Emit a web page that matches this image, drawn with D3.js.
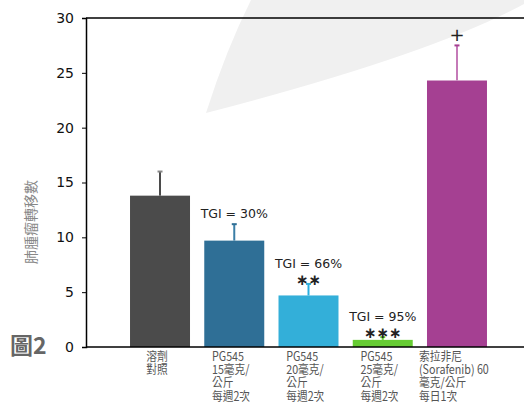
<!DOCTYPE html>
<html>
<head>
<meta charset="utf-8">
<script src="https://cdn.jsdelivr.net/npm/d3@7"></script>
<style>
  html, body { margin: 0; padding: 0; background: #fff; }
  svg { display: block; }
</style>
</head>
<body>
<svg id="chart" width="524" height="403"></svg>
<script>
// ---- data ----
const categories = ["溶劑對照", "PG545 15", "PG545 20", "PG545 25", "索拉非尼"];
const categoryLabels = [
  ["溶劑", "對照"],
  ["PG545", "15毫克/", "公斤", "每週2次"],
  ["PG545", "20毫克/", "公斤", "每週2次"],
  ["PG545", "25毫克/", "公斤", "每週2次"],
  ["索拉非尼", "(Sorafenib) 60", "毫克/公斤", "每日1次"]
];
const meanValues = [13.8, 9.7, 4.7, 0.65, 24.3];
const errorTops = [16.0, 11.2, 5.75, 0.9, 27.5];
const tgiLabels = ["", "TGI = 30%", "TGI = 66%", "TGI = 95%", ""];
const sigLabels = ["", "", "∗∗", "∗∗∗", "+"];
const yTicks = [0, 5, 10, 15, 20, 25, 30];
const barColors = ["#4b4b4b", "#2f6f96", "#33afd9", "#66cc33", "#a54092"];
const errColors = ["#4b4b4b", "#3b7ea6", "#2aaee0", "#66cc33", "#c57ab8"];
const yTitle = "肺腫瘤轉移數";
const figLabel = "圖2";

(function () {
// ---- layout ----
const svg = d3.select("#chart");
const mLeft = 86, mTop = 18, mBottom = 347, mRight = 531;

const x = d3.scaleBand().domain(categories).range([mLeft, mRight])
  .paddingInner(0.192).paddingOuter(0.593);
const y = d3.scaleLinear().domain([0, 30]).range([mBottom, mTop]);

// decorative background swoosh
svg.append("path")
  .attr("d", "M251,0 L524,0 L524,4 Q430,55 206,113 Q226,50 251,0 Z")
  .attr("fill", "#f0f0f0");

// top border
svg.append("line").attr("x1", mLeft).attr("x2", 524).attr("y1", y(30)).attr("y2", y(30))
  .attr("stroke", "#000").attr("stroke-width", 1.5);

// bars
svg.selectAll("rect.bar").data(categories).enter().append("rect")
  .attr("class", "bar")
  .attr("x", d => x(d))
  .attr("width", x.bandwidth())
  .attr("y", (d, i) => y(meanValues[i]))
  .attr("height", (d, i) => y(0) - y(meanValues[i]))
  .attr("fill", (d, i) => barColors[i]);

// error bars
const eb = svg.selectAll("g.err").data(categories).enter().append("g").attr("class", "err");
eb.append("line")
  .attr("x1", d => x(d) + x.bandwidth() / 2)
  .attr("x2", d => x(d) + x.bandwidth() / 2)
  .attr("y1", (d, i) => y(meanValues[i]))
  .attr("y2", (d, i) => y(errorTops[i]))
  .attr("stroke", (d, i) => errColors[i]).attr("stroke-width", 2);
eb.append("line")
  .attr("x1", d => x(d) + x.bandwidth() / 2 - 2.5)
  .attr("x2", d => x(d) + x.bandwidth() / 2 + 2.5)
  .attr("y1", (d, i) => y(errorTops[i]))
  .attr("y2", (d, i) => y(errorTops[i]))
  .attr("stroke", (d, i) => i === 0 ? "#888" : barColors[i]).attr("stroke-width", 2);

// y axis
const yAxis = d3.axisLeft(y).tickValues(yTicks).tickSize(4).tickPadding(6);
const gy = svg.append("g").attr("transform", `translate(${mLeft},0)`).call(yAxis);
gy.select(".domain").attr("stroke", "#000").attr("stroke-width", 1.5);
gy.selectAll(".tick line").attr("stroke", "#000").attr("stroke-width", 1);
gy.selectAll(".tick text").attr("font-family", "DejaVu Sans, Verdana, sans-serif")
  .attr("font-size", 14).attr("fill", "#111").attr("dx", -2);

// x axis baseline
svg.append("line").attr("x1", mLeft).attr("x2", 524).attr("y1", y(0)).attr("y2", y(0))
  .attr("stroke", "#000").attr("stroke-width", 1.5);

// category labels (left-aligned, horizontally condensed blocks under bars)
const labelFont = "'Noto Sans CJK TC', sans-serif";
const squeeze = 0.86;
categories.forEach((c, i) => {
  const g = svg.append("g");
  const t = g.append("text").attr("font-family", labelFont).attr("font-size", 12.5)
    .attr("fill", "#555");
  categoryLabels[i].forEach((ln, k) => {
    t.append("tspan").attr("x", 0).attr("y", y(0) + 14 + k * 13.2).text(ln);
  });
  const w = t.node().getBBox().width * squeeze;
  g.attr("transform", `translate(${x(c) + x.bandwidth() / 2 - w / 2 - 3},0) scale(${squeeze},1)`);
});

// annotations
const annFont = "DejaVu Sans, Verdana, sans-serif";
categories.forEach((c, i) => {
  const cx = x(c) + x.bandwidth() / 2;
  const et = y(errorTops[i]);
  const hasSig = sigLabels[i] !== "";
  if (tgiLabels[i]) {
    svg.append("text").attr("x", cx).attr("y", hasSig ? et - 16 : et - 6)
      .attr("text-anchor", "middle").attr("font-family", annFont)
      .attr("font-size", 12.5).attr("fill", "#222").text(tgiLabels[i]);
  }
  if (hasSig) {
    svg.append("text").attr("x", cx).attr("y", sigLabels[i] === "+" ? et - 4 : et + 1)
      .attr("text-anchor", "middle").attr("font-family", annFont)
      .attr("font-size", sigLabels[i] === "+" ? 18 : 15).attr("fill", "#222")
      .attr("font-weight", sigLabels[i] === "+" ? "normal" : "bold")
      .text(sigLabels[i]);
  }
});

// y axis title
svg.append("text")
  .attr("transform", `translate(36,222) rotate(-90)`)
  .attr("text-anchor", "middle")
  .attr("font-family", "'Noto Sans CJK TC', sans-serif")
  .attr("font-size", 14).attr("fill", "#888")
  .text(yTitle);

// figure label
svg.append("text").attr("x", 10).attr("y", 354)
  .attr("font-family", "'Noto Sans CJK TC', sans-serif")
  .attr("font-weight", "bold").attr("font-size", 23).attr("fill", "#666")
  .text(figLabel);
})();
</script>
</body>
</html>
